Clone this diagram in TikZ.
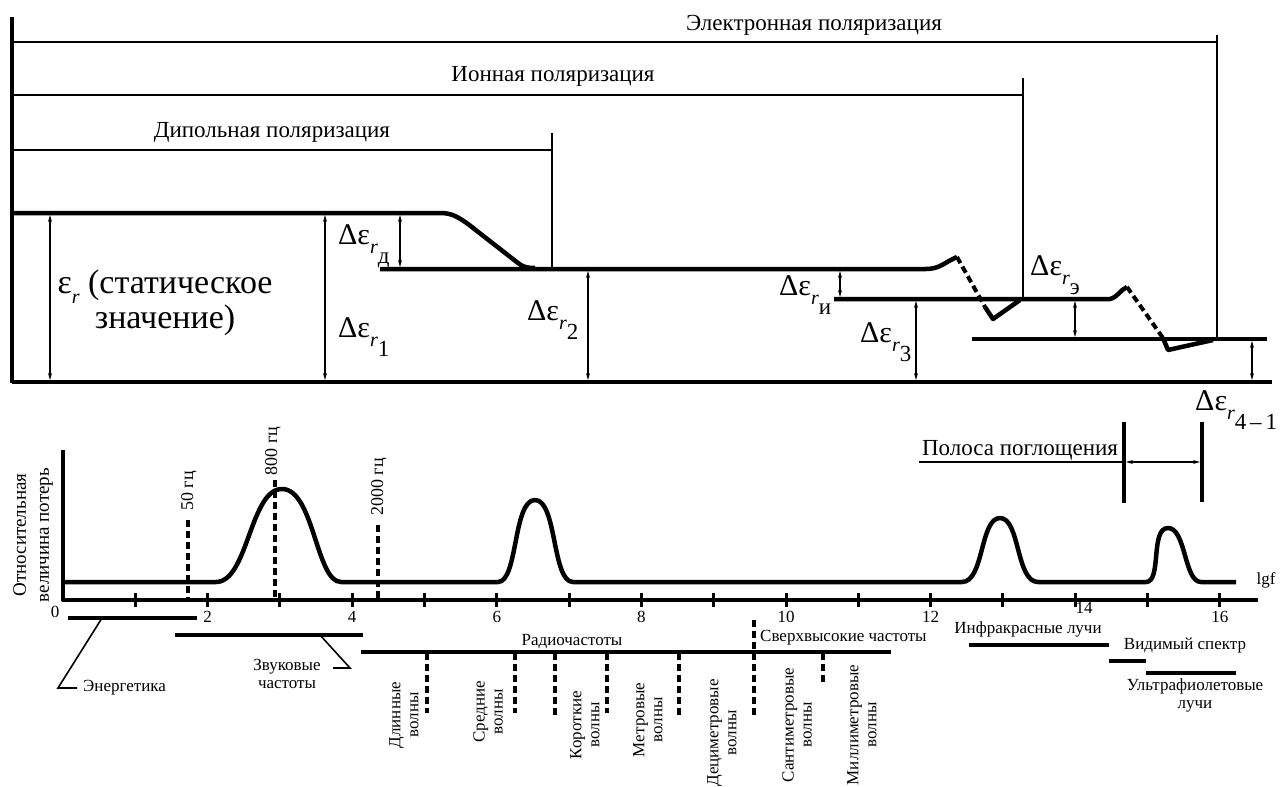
\documentclass[tikz,border=0pt]{standalone}
\usepackage{fontspec}
\setmainfont{Liberation Serif}
\newfontfamily\bigserif{Liberation Serif}
\usetikzlibrary{positioning,arrows.meta}
\newcommand{\rsub}{\raisebox{-0.3em}{\fontsize{20}{20}\selectfont\itshape r}}
\newcommand{\deps}[1]{Δε\rsub\raisebox{-0.66em}{\fontsize{23}{23}\selectfont #1}}

\begin{document}
\begin{tikzpicture}[x=1pt, y=-1pt, every node/.style={inner sep=0pt}, thickline/.style={line width=4.5pt, line join=round}, thinline/.style={line width=1.6pt}, dim/.style={line width=1.1pt, {Stealth[length=7pt,width=4pt]}-{Stealth[length=7pt,width=4pt]}, shorten <=2pt, shorten >=2pt}, dashline/.style={line width=3.5pt, dash pattern=on 7pt off 4pt}, tickmark/.style={line width=3pt}, pol/.style={font=\fontsize{23}{25}\selectfont}, big/.style={font=\bigserif\fontsize{30}{28}\selectfont}, lbl/.style={font=\fontsize{17}{18}\selectfont}, rotlbl/.style={lbl, rotate=90, align=center}]
\useasboundingbox (0,0) rectangle (1280,787);
\node[pol] (elpol) at (814,25) {Электронная поляризация};
\node[pol] (ionpol) at (553,76) {Ионная поляризация};
\node[pol] (dippol) at (272,132) {Дипольная поляризация};
\draw[thinline] (12,42) -- (1217,42);
\draw[thinline] (1217,35) -- (1217,339);
\draw[thinline] (12,95) -- (1023,95);
\draw[thinline] (1023,78) -- (1023,299);
\draw[thinline] (12,150) -- (552,150);
\draw[thinline] (552,133) -- (552,269);
\draw[thickline] (12,17) -- (12,383);
\draw[thickline] (12,382) -- (1272,382);
\draw[thickline] (12,213) -- (440,213) .. controls (452,213) and (458,217) .. (468,224) -- (518,263) .. controls (523,267) and (527,268) .. (535,268);
\draw[thickline] (380,269) -- (926,269) .. controls (940,269) and (945,262) .. (957,257);
\draw[dashline, line width=4pt] (957,257) -- (985,307);
\draw[thickline] (985,307) -- (993,319) -- (1020,300);
\draw[thickline] (834,299) -- (1110,299) .. controls (1118,297) and (1120,290) .. (1127,287);
\draw[dashline, line width=4pt] (1127,287) -- (1163,338);
\draw[thickline] (1163,338) -- (1168,350) -- (1213,340);
\draw[thickline] (972,339) -- (1267,339);
\foreach \n/\x/\ya/\yb in {s/50/213/382, a1/325/213/382, ad/400/213/269, a2/588/269/382, ai/840/269/299, a3/916/299/382, ae/1075/299/339, a4/1252/339/382}{
  \coordinate (\n top) at (\x,\ya);
  \coordinate (\n bot) at (\x,\yb);
  \draw[dim] (\n top) -- (\n bot);
}
\node[big, align=center, font=\bigserif\fontsize{34}{30}\selectfont] (stat) at (165,303) {ε\rsub{} (статическое\\значение)};
\node[big, anchor=base west] (d1) at (338,337) {\deps{1}};
\node[big, anchor=base west] (dd) at (338,244) {\deps{д}};
\node[big, anchor=base west] (d2) at (527,320) {\deps{2}};
\node[big, anchor=base west] (di) at (779,295) {\deps{и}};
\node[big, anchor=base west] (d3) at (860,342) {\deps{3}};
\node[big, anchor=base west] (de) at (1030,275) {\deps{э}};
\node[big, anchor=base west] (d41) at (1195,410) {\deps{4\,–\,1}};
\draw[thickline] (63,450) -- (63,600) -- (1258,600);
\foreach \k in {1,...,16} \draw[tickmark] (63+72.3*\k,593) -- (63+72.3*\k,607);
\node[lbl] (t0) at (55,612) {0};
\foreach \k in {2,4,...,12,16} \node[lbl] (t\k) at (63+72.3*\k,617) {\k};
\node[lbl] (t14) at (1084,608) {14};
\node[lbl] (lgf) at (1266,580) {lgf};
\node[rotlbl, font=\fontsize{19}{23}\selectfont] (ylab) at (33,535) {Относительная\\величина потерь};
\draw[thickline] (63,582) -- (216,582) .. controls (248,582) and (250,489) .. (282,489) .. controls (314,489) and (316,582) .. (341,582) -- (498,582) .. controls (518,582) and (513,500) .. (535,500) .. controls (557,500) and (552,582) .. (573,582) -- (962,582) .. controls (984,582) and (980,518) .. (1000,518) .. controls (1020,518) and (1016,582) .. (1038,582) -- (1146,582) .. controls (1162,582) and (1150,528) .. (1168,528) .. controls (1186,528) and (1184,582) .. (1201,582) -- (1236,582);
\draw[dashline] (188,520) -- (188,600);
\draw[dashline] (275,480) -- (275,600);
\draw[dashline] (378,525) -- (378,600);
\node[rotlbl, font=\fontsize{18}{18}\selectfont] (f50) at (189,491) {50 гц};
\node[rotlbl, font=\fontsize{18}{18}\selectfont] (f800) at (273,451) {800 гц};
\node[rotlbl, font=\fontsize{18}{18}\selectfont] (f2000) at (379,487) {2000 гц};
\draw[thickline] (68,618) -- (197,618);
\node[lbl, anchor=west] (energ) at (83,688) {Энергетика};
\coordinate (energa) at (102,618);
\coordinate (energk) at (58,688);
\draw[thinline, shorten >=6pt] (energa) -- (energk) -- (energ.west);
\draw[thickline] (175,635) -- (363,635);
\node[lbl, align=center] (zvuk) at (287,674) {Звуковые\\частоты};
\coordinate (zvuka) at (320,635);
\coordinate (zvukk) at (350,668);
\coordinate (zvuke) at (333,668);
\draw[thinline] (zvuka) -- (zvukk) -- (zvuke);
\draw[thickline] (361,652) -- (891,652);
\node[lbl] (radio) at (572,642) {Радиочастоты};
\node[lbl, anchor=west] (shf) at (760,638) {Сверхвысокие частоты};
\foreach \x/\ya/\yb in {427/653/713, 515/653/713, 555/653/715, 607/653/713, 679/653/717, 754/620/717, 823/653/683} \draw[dashline] (\x,\ya) -- (\x,\yb);
\node[rotlbl] (dlin) at (404,715) {Длинные\\волны};
\node[rotlbl] (sred) at (488,712) {Средние\\волны};
\node[rotlbl] (korot) at (585,725) {Короткие\\волны};
\node[rotlbl] (metr) at (648,720) {Метровые\\волны};
\node[rotlbl] (decim) at (722,733) {Дециметровые\\волны};
\node[rotlbl] (santi) at (797,725) {Сантиметровые\\волны};
\node[rotlbl] (milli) at (862,725) {Миллиметровые\\волны};
\node[lbl] (ir) at (1028,629) {Инфракрасные лучи};
\draw[thickline] (969,645) -- (1109,645);
\node[lbl] (vis) at (1185,645) {Видимый спектр};
\draw[thickline] (1109,661) -- (1146,661);
\draw[thickline] (1146,673) -- (1236,673);
\node[lbl, align=center] (uv) at (1195,695) {Ультрафиолетовые\\лучи};
\node[pol] (band) at (1020,450) {Полоса поглощения};
\coordinate (bandL) at (1124,462);
\coordinate (bandR) at (1202,462);
\coordinate (bandS) at (919,462);
\draw[thinline] (bandS) -- (bandL);
\draw[dim] (bandL) -- (bandR);
\draw[thickline] (1124,422) -- (1124,503);
\draw[thickline] (1202,422) -- (1202,502);
\end{tikzpicture}
\end{document}
